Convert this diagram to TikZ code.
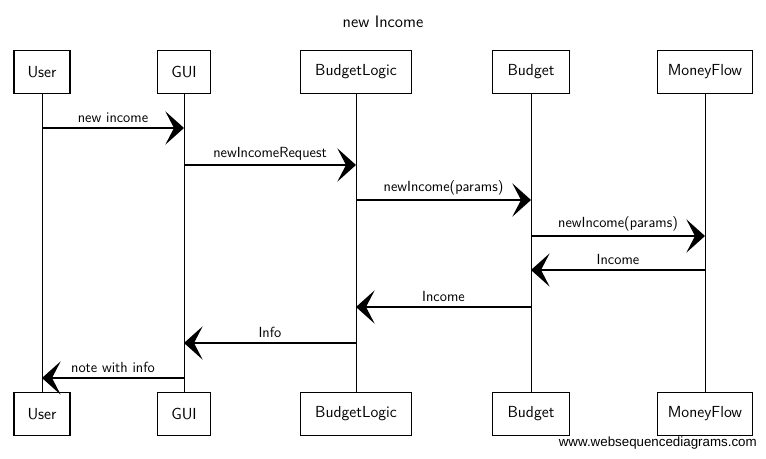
\documentclass[tikz,border=0pt]{standalone}
\usepackage{fontspec}
\usepackage{tikz}
\usetikzlibrary{arrows.meta}
\newfontfamily\wsdfont{Liberation Sans}

\tikzset{
  actor/.style={draw, line width=1.1pt, minimum height=32pt, inner sep=0.75pt, font=\sffamily\fontsize{12}{14}\selectfont},
  lifeline/.style={line width=0.7pt},
  message/.style={line width=0.9pt, -{Stealth[length=14pt, width=25pt, inset=6.5pt]}},
  msglabel/.style={font=\sffamily\fontsize{11}{13}\selectfont, inner sep=0.75pt, anchor=south, yshift=2.5pt}
}

\begin{document}
\begin{tikzpicture}[x=0.75pt,y=0.75pt,yscale=-1,xscale=1]
\path[use as bounding box] (0,0) rectangle (766,459);

% Title
\node (title) at (383,22) {\sffamily\fontsize{12.5}{15}\selectfont new Income};

% Top actors
\node[actor, minimum width=42pt] (userT) at (42,72) {User};
\node[actor, minimum width=40pt] (guiT) at (184,72) {GUI};
\node[actor, minimum width=83pt] (logicT) at (356,72) {BudgetLogic};
\node[actor, minimum width=58pt] (budgetT) at (531,72) {Budget};
\node[actor, minimum width=71pt] (flowT) at (705,72) {MoneyFlow};

% Bottom actors
\node[actor, minimum width=42pt] (userB) at (42,414) {User};
\node[actor, minimum width=40pt] (guiB) at (184,414) {GUI};
\node[actor, minimum width=83pt] (logicB) at (356,414) {BudgetLogic};
\node[actor, minimum width=58pt] (budgetB) at (531,414) {Budget};
\node[actor, minimum width=71pt] (flowB) at (705,414) {MoneyFlow};

% Lifelines
\draw[lifeline] (userT) -- (userB);
\draw[lifeline] (guiT) -- (guiB);
\draw[lifeline] (logicT) -- (logicB);
\draw[lifeline] (budgetT) -- (budgetB);
\draw[lifeline] (flowT) -- (flowB);

% Message points on the lifelines
\coordinate (user1) at (userT |- 0,128);
\coordinate (gui1) at (guiT |- 0,128);
\coordinate (gui2) at (guiT |- 0,165);
\coordinate (logic2) at (logicT |- 0,165);
\coordinate (logic3) at (logicT |- 0,200);
\coordinate (budget3) at (budgetT |- 0,200);
\coordinate (budget4) at (budgetT |- 0,236);
\coordinate (flow4) at (flowT |- 0,236);
\coordinate (flow5) at (flowT |- 0,270);
\coordinate (budget5) at (budgetT |- 0,270);
\coordinate (budget6) at (budgetT |- 0,307);
\coordinate (logic6) at (logicT |- 0,307);
\coordinate (logic7) at (logicT |- 0,343);
\coordinate (gui7) at (guiT |- 0,343);
\coordinate (gui8) at (guiT |- 0,378);
\coordinate (user8) at (userT |- 0,378);

% Messages
\draw[message] (user1) -- node[msglabel] {new income} (gui1);
\draw[message] (gui2) -- node[msglabel] {newIncomeRequest} (logic2);
\draw[message] (logic3) -- node[msglabel] {newIncome(params)} (budget3);
\draw[message] (budget4) -- node[msglabel] {newIncome(params)} (flow4);
\draw[message] (flow5) -- node[msglabel] {Income} (budget5);
\draw[message] (budget6) -- node[msglabel] {Income} (logic6);
\draw[message] (logic7) -- node[msglabel] {Info} (gui7);
\draw[message] (gui8) -- node[msglabel] {note with info} (user8);

% Watermark
\node[anchor=east, inner sep=0pt] (mark) at (757,443) {\wsdfont\fontsize{10}{12}\selectfont www.websequencediagrams.com};

\end{tikzpicture}
\end{document}
